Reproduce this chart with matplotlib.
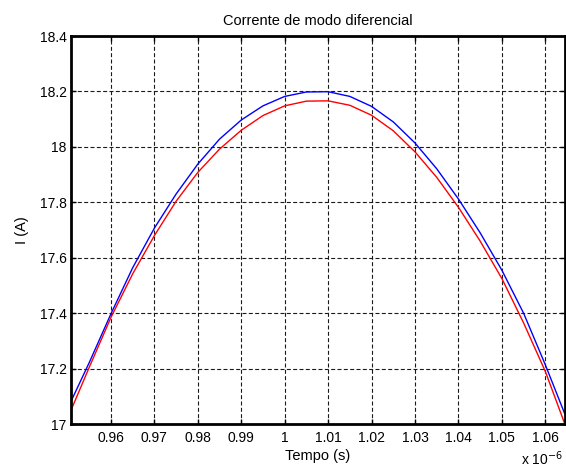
import matplotlib
matplotlib.use("Agg")
import matplotlib.pyplot as plt

plt.rcParams['font.family'] = ['Liberation Sans', 'DejaVu Sans']

# Time in microseconds (axis scaled by 1e-6), current in amperes
t_blue = [0.9508, 0.955, 0.960, 0.965, 0.970, 0.975, 0.980, 0.985, 0.990,
          0.995, 1.000, 1.005, 1.010, 1.015, 1.020, 1.025, 1.030, 1.035,
          1.040, 1.045, 1.050, 1.055, 1.060, 1.0645]
i_blue = [17.082, 17.222, 17.398, 17.564, 17.707, 17.830, 17.938, 18.028,
          18.097, 18.148, 18.182, 18.198, 18.199, 18.182, 18.146, 18.090,
          18.014, 17.921, 17.812, 17.690, 17.555, 17.400, 17.214, 17.036]

t_red = [0.9508, 0.955, 0.960, 0.965, 0.970, 0.975, 0.980, 0.985, 0.990,
         0.995, 1.000, 1.005, 1.010, 1.015, 1.020, 1.025, 1.030, 1.035,
         1.040, 1.045, 1.050, 1.055, 1.060, 1.0645]
i_red = [17.050, 17.205, 17.385, 17.542, 17.680, 17.804, 17.908, 17.992,
         18.060, 18.113, 18.148, 18.165, 18.166, 18.150, 18.114, 18.058,
         17.982, 17.890, 17.782, 17.660, 17.525, 17.365, 17.190, 17.000]

x_ticks = [0.96, 0.97, 0.98, 0.99, 1.00, 1.01, 1.02, 1.03, 1.04, 1.05, 1.06]
x_labels = ["0.96", "0.97", "0.98", "0.99", "1", "1.01", "1.02", "1.03",
            "1.04", "1.05", "1.06"]
y_ticks = [17.0, 17.2, 17.4, 17.6, 17.8, 18.0, 18.2, 18.4]
y_labels = ["17", "17.2", "17.4", "17.6", "17.8", "18", "18.2", "18.4"]

fig = plt.figure(figsize=(5.66, 4.70), dpi=100)
ax = fig.add_axes([71 / 566, 1 - 424 / 470, (565 - 71) / 566, (424 - 36) / 470])

ax.plot(t_blue, i_blue, color=(0, 0, 1), lw=1.0)
ax.plot(t_red, i_red, color=(1, 0, 0), lw=1.0)

ax.set_xlim(0.95079, 1.06454)
ax.set_ylim(17.0, 18.4)
ax.set_xticks(x_ticks)
ax.set_xticklabels(x_labels)
ax.set_yticks(y_ticks)
ax.set_yticklabels(y_labels)

ax.grid(True, color='#1a1a1a', linestyle=(0, (3.6, 2.1)), lw=0.8)
for s in ax.spines.values():
    s.set_linewidth(2.0)
    s.set_color('black')

ax.tick_params(direction='in', length=3.5, width=1.0, top=True, right=True,
               labelsize=10, pad=5)
ax.tick_params(axis='y', pad=3)

ax.set_title("Corrente de modo diferencial", fontsize=10.5, pad=8)
ax.set_xlabel("Tempo (s)", fontsize=10.5, labelpad=3)
ax.set_ylabel("I (A)", fontsize=10.5, labelpad=8)
fig.text(521 / 566, 1 - 465 / 470, r"x 10$^{-6}$", fontsize=10, ha='left', va='baseline')

fig.savefig("out.png", dpi=100)
